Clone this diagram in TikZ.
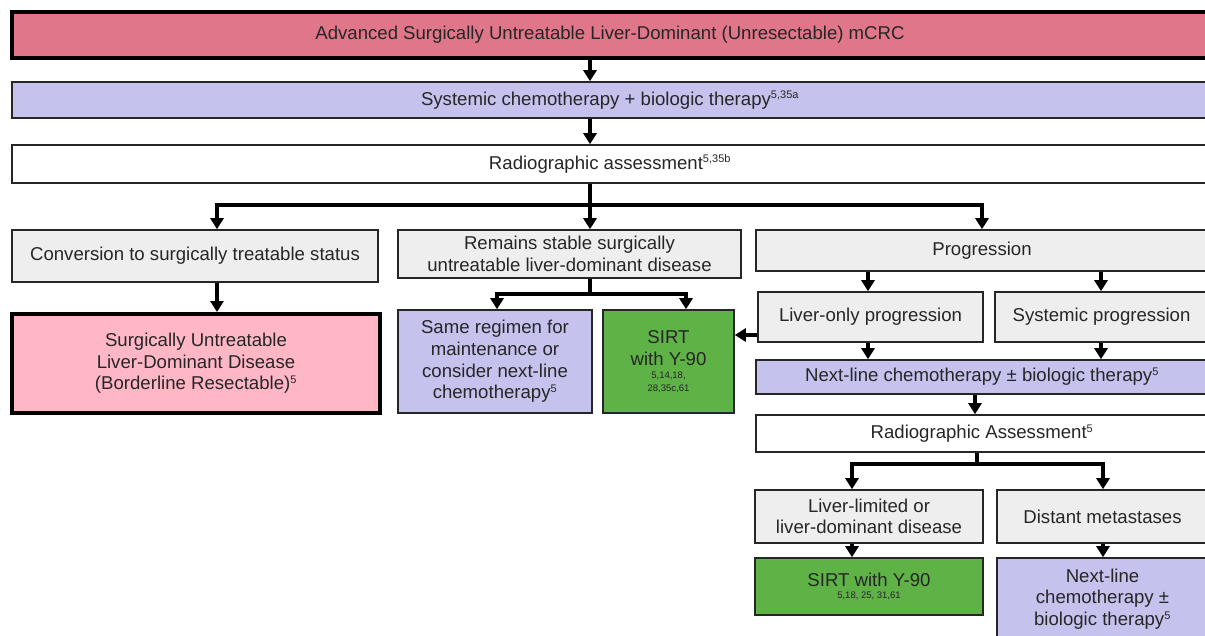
\documentclass[tikz,border=0pt]{standalone}
\usepackage{fontspec}
\setmainfont{Liberation Sans}
\usetikzlibrary{arrows.meta}
\definecolor{headred}{HTML}{E0768A}
\definecolor{chemoblue}{HTML}{C5C3EE}
\definecolor{stepgray}{HTML}{EEEEEE}
\definecolor{borderpink}{HTML}{FFB7C6}
\definecolor{sirtgreen}{HTML}{5EB246}
\definecolor{inkgray}{HTML}{262626}
\newcommand{\refsize}{\fontsize{9.5}{12}\selectfont}
\newcommand{\refsup}[1]{\textsuperscript{\fontsize{11}{11}\selectfont#1}}

\begin{document}
\begin{tikzpicture}[x=1pt,y=-1pt,
  box/.style={draw=black!85,line width=1.6pt,inner sep=0pt,align=center,text=inkgray,
    font=\fontsize{18.6}{21.6}\selectfont},
  heavy/.style={box,draw=black,line width=4pt},
  link/.style={line width=3.4pt,-{Triangle[length=11pt,width=13pt]}}]
  \clip (0,0) rectangle (1205,635);
  \node[heavy,fill=headred,minimum width=1196pt,minimum height=46pt] (mcrc) at (610,35)
    {Advanced Surgically Untreatable Liver-Dominant (Unresectable) mCRC};
  \node[box,fill=chemoblue,minimum width=1196pt,minimum height=36pt] (chemo) at (610,100)
    {Systemic chemotherapy + biologic therapy\refsup{5,35a}};
  \node[box,fill=white,minimum width=1196pt,minimum height=38pt] (assess) at (610,164)
    {Radiographic assessment\refsup{5,35b}};
  \node[box,fill=stepgray,minimum width=366pt,minimum height=52pt] (conv) at (195,256)
    {Conversion to surgically treatable status};
  \node[box,fill=stepgray,minimum width=343pt,minimum height=48pt] (stable) at (569.5,254)
    {Remains stable surgically\\untreatable liver-dominant disease};
  \node[box,fill=stepgray,minimum width=452pt,minimum height=41pt] (prog) at (982,250.5)
    {Progression};
  \node[heavy,fill=borderpink,minimum width=368pt,minimum height=99pt] (bldr) at (196,363.5)
    {Surgically Untreatable\\Liver-Dominant Disease\\(Borderline Resectable)\refsup{5}};
  \node[box,fill=chemoblue,minimum width=194pt,minimum height=103pt] (same) at (495,361.5)
    {Same regimen for\\maintenance or\\consider next-line\\chemotherapy\refsup{5}};
  \node[box,fill=sirtgreen,minimum width=131pt,minimum height=103pt] (sirta) at (668.5,361.5)
    {SIRT\\with Y-90\\[-8pt]{\refsize 5,14,18,}\\[-9pt]{\refsize 28,35c,61}};
  \node[box,fill=stepgray,minimum width=225pt,minimum height=50pt] (liver) at (870.5,317)
    {Liver-only progression};
  \node[box,fill=stepgray,minimum width=213pt,minimum height=50pt] (sysprog) at (1101.5,317)
    {Systemic progression};
  \node[box,fill=chemoblue,minimum width=452pt,minimum height=34pt] (nextl) at (982,377)
    {Next-line chemotherapy ± biologic therapy\refsup{5}};
  \node[box,fill=white,minimum width=452pt,minimum height=37pt] (assessb) at (982,433.5)
    {Radiographic Assessment\refsup{5}};
  \node[box,fill=stepgray,minimum width=228pt,minimum height=53pt] (limited) at (869,516.5)
    {Liver-limited or\\liver-dominant disease};
  \node[box,fill=stepgray,minimum width=211pt,minimum height=53pt] (distant) at (1102.5,516.5)
    {Distant metastases};
  \node[box,fill=sirtgreen,minimum width=228pt,minimum height=57pt] (sirtb) at (869,586.5)
    {SIRT with Y-90\\[-9pt]{\refsize 5,18, 25, 31,61}};
  \node[box,fill=chemoblue,minimum width=211pt,minimum height=82pt] (nextlb) at (1102.5,599)
    {Next-line\\chemotherapy ±\\biologic therapy\refsup{5}};
  \coordinate (trunk) at (590,205);
  \coordinate (left) at (217,205);
  \coordinate (right) at (982,205);
  \coordinate (fork) at (590,294);
  \coordinate (sameat) at (497,294);
  \coordinate (sirtat) at (686,294);
  \coordinate (livat) at (868,0);
  \coordinate (sysat) at (1101,0);
  \coordinate (down) at (975,0);
  \coordinate (split) at (977,464);
  \coordinate (limat) at (852,464);
  \coordinate (distat) at (1103,464);
  \draw[link] (mcrc.south -| trunk) -- (chemo.north -| trunk);
  \draw[link] (chemo.south -| trunk) -- (assess.north -| trunk);
  \draw[line width=3.4pt] (assess.south -| trunk) -- (trunk);
  \draw[link] (trunk) -- (stable.north -| trunk);
  \draw[link] (trunk) -- (left) -- (conv.north -| left);
  \draw[link] (trunk) -- (right) -- (prog.north -| right);
  \draw[link] (conv.south -| left) -- (bldr.north -| left);
  \draw[line width=3.4pt] (stable.south -| fork) -- (fork);
  \draw[link] (fork) -- (sameat) -- (same.north -| sameat);
  \draw[link] (fork) -- (sirtat) -- (sirta.north -| sirtat);
  \draw[link] (prog.south -| livat) -- (liver.north -| livat);
  \draw[link] (prog.south -| sysat) -- (sysprog.north -| sysat);
  \draw[link] ([yshift=-18pt]liver.west) -- ([yshift=-18pt]liver.west -| sirta.east);
  \draw[link] (liver.south -| livat) -- (nextl.north -| livat);
  \draw[link] (sysprog.south -| sysat) -- (nextl.north -| sysat);
  \draw[link] (nextl.south -| down) -- (assessb.north -| down);
  \draw[line width=3.4pt] (assessb.south -| split) -- (split);
  \draw[link] (split) -- (limat) -- (limited.north -| limat);
  \draw[link] (split) -- (distat) -- (distant.north -| distat);
  \draw[link] (limited.south -| limat) -- (sirtb.north -| limat);
  \draw[link] (distant.south -| distat) -- (nextlb.north -| distat);
\end{tikzpicture}
\end{document}
